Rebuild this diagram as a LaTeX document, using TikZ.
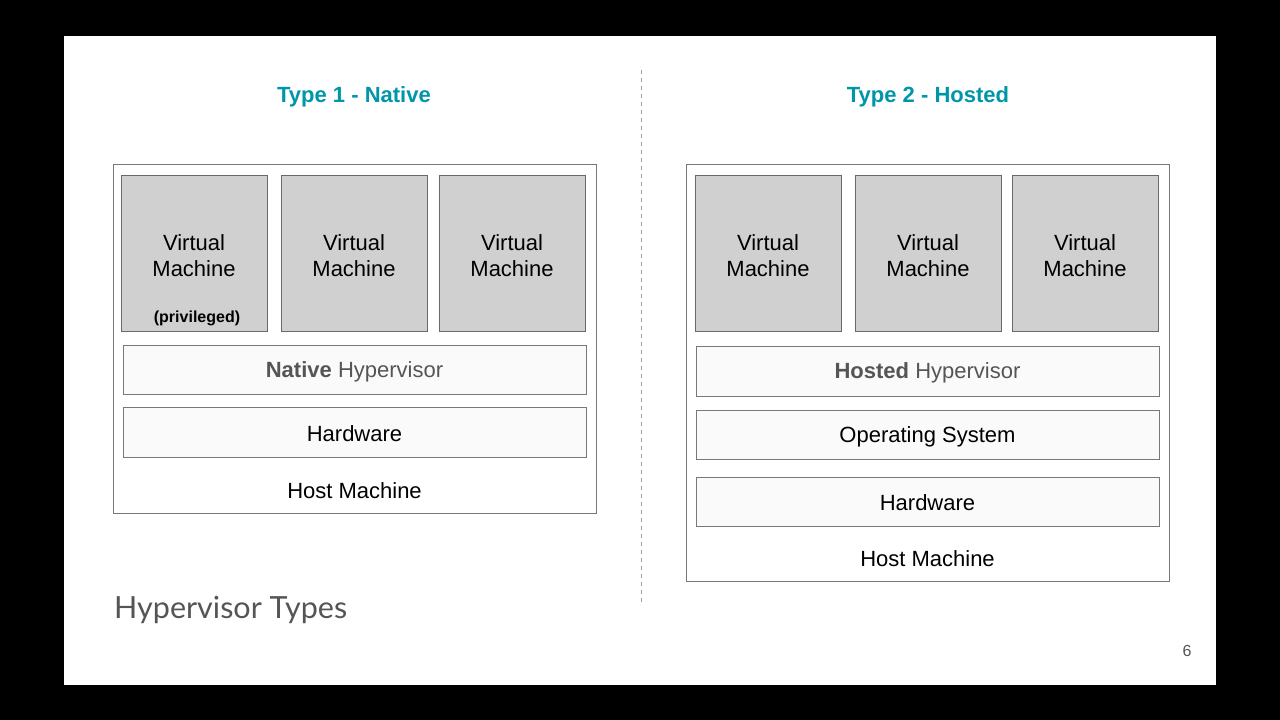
\documentclass[tikz,border=0pt]{standalone}
\usepackage{fontspec}
\setmainfont{Liberation Sans}
\newfontfamily\titlefont{Lato}
\definecolor{teal1}{RGB}{0,150,170}
\definecolor{boxline}{RGB}{120,120,120}
\definecolor{vmfill}{RGB}{208,208,208}
\definecolor{vmline}{RGB}{105,105,105}
\definecolor{layerfill}{RGB}{250,250,250}
\definecolor{hypgray}{RGB}{85,85,85}
\begin{document}
\begin{tikzpicture}[x=1pt,y=-1pt,
  outerbox/.style={draw=boxline,line width=1pt,fill=white},
  vmbox/.style={draw=vmline,line width=1pt,fill=vmfill},
  layerbox/.style={draw=boxline,line width=1pt,fill=layerfill},
  lbl/.style={font=\fontsize{22}{26}\selectfont,align=center,text=black,inner sep=0pt},
  ttl/.style={font=\fontsize{22}{26}\selectfont\bfseries,text=teal1,inner sep=0pt}]
\useasboundingbox (0,0) rectangle (1280,720);
\fill[black] (0,0) rectangle (1280,720);
\fill[white] (64,36) rectangle (1216,685);
% divider
\draw[boxline!70,line width=0.8pt,dash pattern=on 4pt off 4pt] (641,70) -- (641,603);
% titles
\node[ttl] (t1) at (354,97) {Type 1 - Native};
\node[ttl] (t2) at (928,97) {Type 2 - Hosted};
% left
\draw[outerbox] (113,164) rectangle (596,513);
\draw[vmbox] (121,175) rectangle (267,331);
\draw[vmbox] (281,175) rectangle (427,331);
\draw[vmbox] (439,175) rectangle (585,331);
\node[lbl] (lvm1) at (194,256) {Virtual\\Machine};
\node[lbl] (lvm2) at (354,256) {Virtual\\Machine};
\node[lbl] (lvm3) at (512,256) {Virtual\\Machine};
\node[inner sep=0pt,font=\fontsize{16}{18}\selectfont\bfseries] (priv) at (197,318.5) {(privileged)};
\draw[layerbox] (123,345) rectangle (586,394);
\node[lbl,text=hypgray] (lhyp) at (354.5,371.5) {\textbf{Native} Hypervisor};
\draw[layerbox] (123,407) rectangle (586,457);
\node[lbl] (lhw) at (354.5,433.5) {Hardware};
\node[lbl] (lhost) at (354.5,490.5) {Host Machine};
% right
\draw[outerbox] (686,164) rectangle (1169,581);
\draw[vmbox] (695,175) rectangle (841,331);
\draw[vmbox] (855,175) rectangle (1001,331);
\draw[vmbox] (1012,175) rectangle (1158,331);
\node[lbl] (rvm1) at (768,256) {Virtual\\Machine};
\node[lbl] (rvm2) at (928,256) {Virtual\\Machine};
\node[lbl] (rvm3) at (1085,256) {Virtual\\Machine};
\draw[layerbox] (696,346) rectangle (1159,396);
\node[lbl,text=hypgray] (rhyp) at (927.5,373) {\textbf{Hosted} Hypervisor};
\draw[layerbox] (696,410) rectangle (1159,459);
\node[lbl] (ros) at (927.5,436.5) {Operating System};
\draw[layerbox] (696,477) rectangle (1159,526);
\node[lbl] (rhw) at (927.5,503) {Hardware};
\node[lbl] (rhost) at (927.5,558.5) {Host Machine};
% footer
\node[anchor=west,inner sep=0pt,text=hypgray,font=\titlefont\fontsize{30.5}{34}\selectfont] (foot) at (114,610) {Hypervisor Types};
\node[inner sep=0pt,text=hypgray,font=\fontsize{16}{18}\selectfont] (pg) at (1187,651) {6};
\end{tikzpicture}
\end{document}
